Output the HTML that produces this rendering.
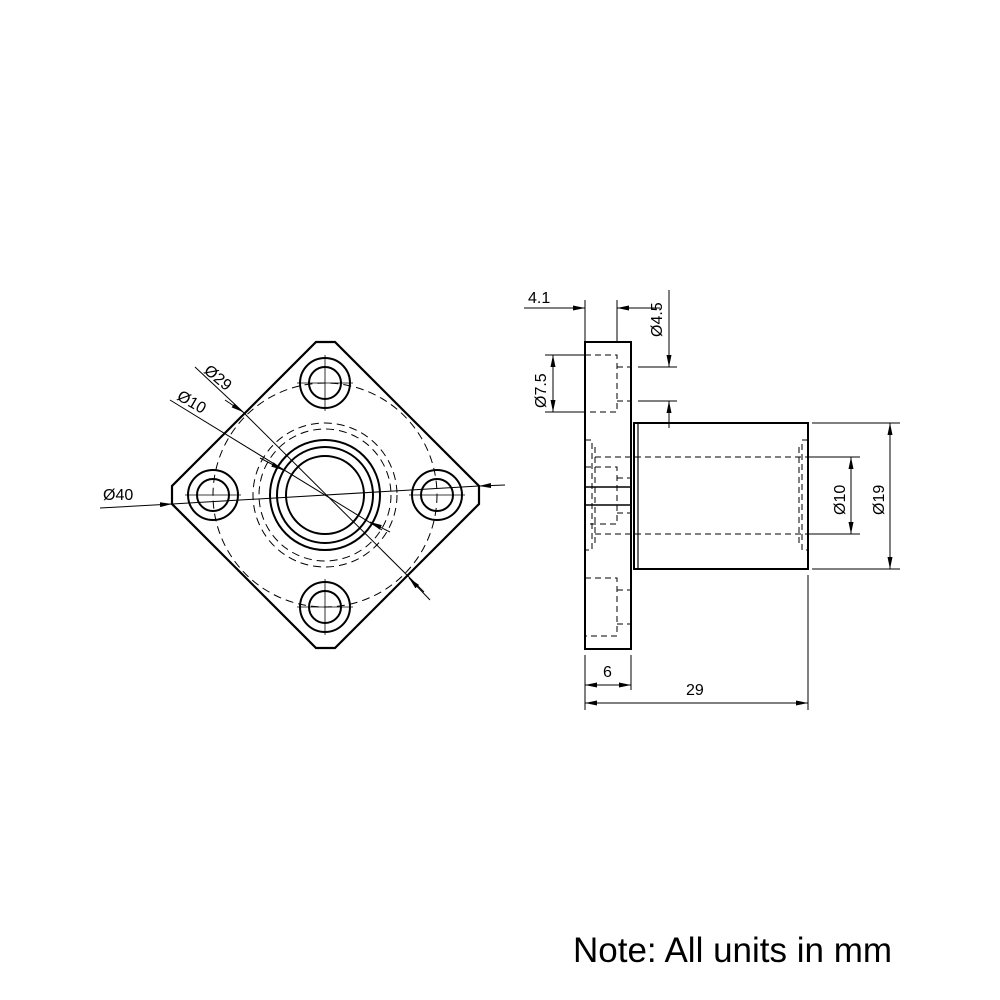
<!DOCTYPE html>
<html><head><style>body{margin:0;background:#fff}svg{display:block}</style></head><body>
<svg width="1000" height="1000" viewBox="0 0 1000 1000" xmlns="http://www.w3.org/2000/svg" font-family="Liberation Sans, sans-serif">
<defs><marker id="a" markerWidth="12" markerHeight="6" refX="12" refY="3" orient="auto-start-reverse" markerUnits="userSpaceOnUse"><path d="M0,0.5 L12,3 L0,5.5z" fill="#000"/></marker></defs>
<g fill="none" stroke="#000">
<polygon points="316,342 335,342 479,486 479,504 335,648 316,648 172,504 172,486" stroke-width="2.2"/>
<g stroke-width="2">
<circle cx="325" cy="383" r="25"/><circle cx="325" cy="383" r="16"/>
<circle cx="325" cy="607" r="25"/><circle cx="325" cy="607" r="16"/>
<circle cx="213" cy="495" r="25"/><circle cx="213" cy="495" r="16"/>
<circle cx="437" cy="495" r="25"/><circle cx="437" cy="495" r="16"/>
<circle cx="325" cy="495" r="55"/><circle cx="325" cy="495" r="48"/><circle cx="325" cy="495" r="39"/>
</g>
<g stroke-width="1" stroke-dasharray="8,5">
<circle cx="325" cy="495" r="112"/><circle cx="325" cy="495" r="66"/><circle cx="325" cy="495" r="72"/>
</g>
<g stroke-width="0.8">
<path d="M325,355v56M297,383h56M325,579v56M297,607h56M185,495h56M409,495h56"/>
</g>
<g stroke-width="1">
<line x1="100" y1="508" x2="172" y2="504" marker-end="url(#a)"/>
<line x1="172" y1="504" x2="479" y2="486"/>
<line x1="505" y1="485" x2="479" y2="486" marker-end="url(#a)"/>
<line x1="195" y1="367" x2="242" y2="411" />
<line x1="242" y1="411" x2="424" y2="592"/>
<line x1="225" y1="400" x2="243" y2="412" marker-end="url(#a)"/>
<line x1="430" y1="600" x2="409" y2="578" marker-end="url(#a)"/>
<line x1="170" y1="400" x2="382" y2="530"/>
<line x1="260" y1="458" x2="283" y2="470" marker-end="url(#a)"/>
<line x1="390" y1="532" x2="370" y2="522" marker-end="url(#a)"/>
</g>
<g stroke-width="2">
<rect x="585" y="342" width="46" height="307"/>
<rect x="634" y="423" width="174" height="146"/>
<line x1="638" y1="423" x2="638" y2="569" stroke-width="1.2"/>
<line x1="585" y1="487" x2="631" y2="487" stroke-width="1.5"/>
<line x1="585" y1="505" x2="631" y2="505" stroke-width="1.5"/>
</g>
<g stroke-width="1" stroke-dasharray="6,4">
<path d="M585,355H617V412H585M617,367H631M617,401H631"/>
<path d="M585,578H617V636H585M617,590H631M617,624H631"/>
<path d="M585,467H617V524H585M617,478H631M617,513H631"/>
<path d="M585,440H592V550H585M595,447V544"/>
<path d="M595,457H808M595,534H808"/>
<path d="M808,440H802V550H808M799,447V544"/>
</g>
<g stroke-width="1">
<path d="M585,300V342M617,300V342M524,308H585M660,308H617"/>
<path d="M545,355H585M545,412H585M638,367H677M638,401H677M669,290V367M669,401V428"/>
<path d="M812,423H900M812,569H900M808,457H860M808,534H860"/>
<path d="M585,655V710M631,655V690M808,575V710"/>
</g>
<g stroke-width="1">
<line x1="560" y1="308" x2="585" y2="308" marker-end="url(#a)"/>
<line x1="640" y1="308" x2="617" y2="308" marker-end="url(#a)"/>
<line x1="669" y1="340" x2="669" y2="367" marker-end="url(#a)"/>
<line x1="669" y1="425" x2="669" y2="401" marker-end="url(#a)"/>
<line x1="553" y1="355" x2="553" y2="412" marker-start="url(#a)" marker-end="url(#a)"/>
<line x1="851" y1="457" x2="851" y2="534" marker-start="url(#a)" marker-end="url(#a)"/>
<line x1="890" y1="423" x2="890" y2="569" marker-start="url(#a)" marker-end="url(#a)"/>
<line x1="585" y1="685" x2="631" y2="685" marker-start="url(#a)" marker-end="url(#a)"/>
<line x1="585" y1="703" x2="808" y2="703" marker-start="url(#a)" marker-end="url(#a)"/>
</g>
</g>
<g font-size="16" fill="#000">
<text x="103" y="500">Ø40</text>
<text transform="translate(203,372) rotate(40)">Ø29</text>
<text transform="translate(176,399) rotate(30)">Ø10</text>
<text x="528" y="303">4.1</text>
<text transform="translate(662,337) rotate(-90)">Ø4.5</text>
<text transform="translate(546,408) rotate(-90)">Ø7.5</text>
<text transform="translate(845,515) rotate(-90)">Ø10</text>
<text transform="translate(884,515) rotate(-90)">Ø19</text>
<text x="603" y="677">6</text>
<text x="686" y="695">29</text>
</g>
<text x="573" y="962" font-size="35" fill="#000">Note: All units in mm</text>
</svg>
</body></html>
